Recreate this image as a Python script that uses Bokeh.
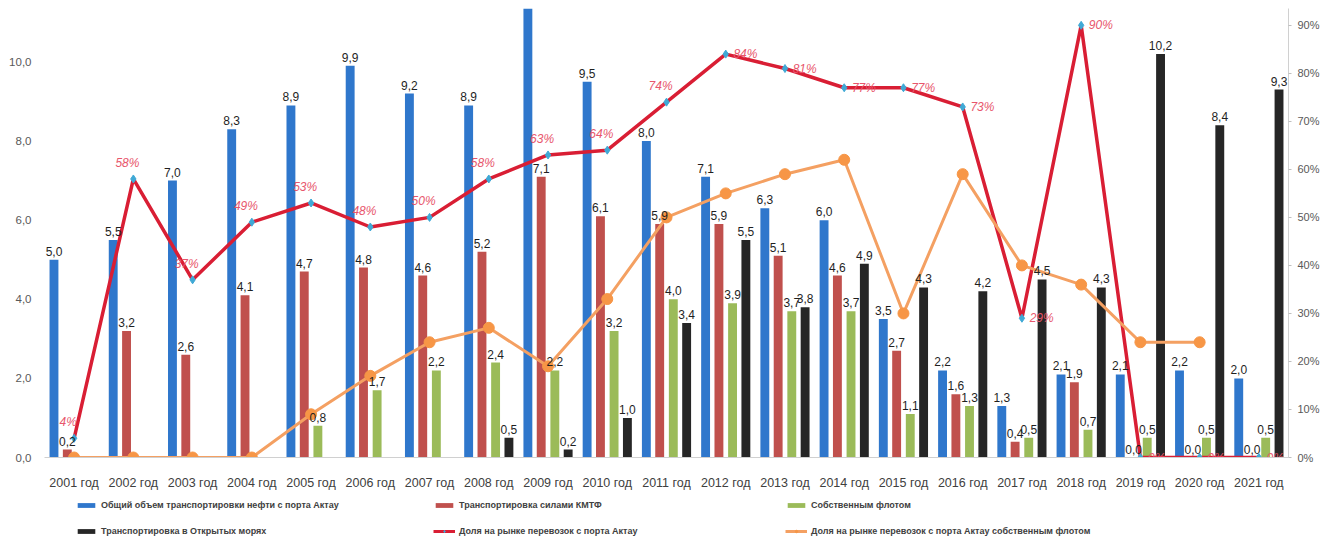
import numpy as np
from bokeh.plotting import figure
from bokeh.layouts import column
from bokeh.models import (Range1d, LinearAxis, FixedTicker, ColumnDataSource,
                          Legend, LegendItem)
from bokeh.transform import dodge
from bokeh.core.properties import value
from bokeh.embed import file_html
from bokeh.resources import INLINE

nan = float("nan")

years = ["2001 год", "2002 год", "2003 год", "2004 год", "2005 год", "2006 год",
         "2007 год", "2008 год", "2009 год", "2010 год", "2011 год", "2012 год",
         "2013 год", "2014 год", "2015 год", "2016 год", "2017 год", "2018 год",
         "2019 год", "2020 год", "2021 год"]

# million tonnes
total = [5.0, 5.5, 7.0, 8.3, 8.9, 9.9, 9.2, 8.9, 11.4, 9.5, 8.0, 7.1, 6.3, 6.0,
         3.5, 2.2, 1.3, 2.1, 2.1, 2.2, 2.0]
kmtf = [0.2, 3.2, 2.6, 4.1, 4.7, 4.8, 4.6, 5.2, 7.1, 6.1, 5.9, 5.9, 5.1, 4.6,
        2.7, 1.6, 0.4, 1.9, 0.0, 0.0, 0.0]
own_fleet = [nan, nan, nan, nan, 0.8, 1.7, 2.2, 2.4, 2.2, 3.2, 4.0, 3.9, 3.7, 3.7,
             1.1, 1.3, 0.5, 0.7, 0.5, 0.5, 0.5]
open_sea = [nan, nan, nan, nan, nan, nan, nan, 0.5, 0.2, 1.0, 3.4, 5.5, 3.8, 4.9,
            4.3, 4.2, 4.5, 4.3, 10.2, 8.4, 9.3]
# percent
share = [4, 58, 37, 49, 53, 48, 50, 58, 63, 64, 74, 84, 81, 77, 77, 73, 29, 90, 0, 0, 0]
own_share = [0, 0, 0, 0, 9, 17, 24, 27, 19, 33, 50, 55, 59, 62, 30, 59, 40, 36, 24, 24, nan]

left_ticks = [0, 2, 4, 6, 8, 10]
left_tick_labels = ["0,0", "2,0", "4,0", "6,0", "8,0", "10,0"]
right_ticks = [0, 10, 20, 30, 40, 50, 60, 70, 80, 90]
right_tick_labels = ["0%", "10%", "20%", "30%", "40%", "50%", "60%", "70%", "80%", "90%"]

names = ["Общий объем транспортировки нефти с порта Актау",
         "Транспортировка силами КМТФ",
         "Собственным флотом",
         "Транспортировка в Открытых морях",
         "Доля на рынке перевозок с порта Актау",
         "Доля на рынке перевозок с порта Актау собственным флотом"]

Y_MAX = 11.35
P_MAX = 93.5


def fmt(v):
    if v != v or v > Y_MAX:
        return ""
    return f"{v:.1f}".replace(".", ",")


n = len(years)
above = [i < 11 for i in range(n)]
src = ColumnDataSource(dict(
    year=years,
    total=np.array(total), kmtf=np.array(kmtf),
    own=np.array(own_fleet), sea=np.array(open_sea),
    total_l=[fmt(v) for v in total], kmtf_l=[fmt(v) for v in kmtf],
    own_l=[fmt(v) for v in own_fleet], sea_l=[fmt(v) for v in open_sea],
    share=np.array(share, dtype=float), own_share=np.array(own_share, dtype=float),
))
src_above = ColumnDataSource(dict(
    year=[y for y, a in zip(years, above) if a],
    share=[float(s) for s, a in zip(share, above) if a],
    lbl=[f"{s}%" for s, a in zip(share, above) if a]))
src_right = ColumnDataSource(dict(
    year=[y for y, a in zip(years, above) if not a],
    share=[float(s) for s, a in zip(share, above) if not a],
    lbl=[f"{s}%" for s, a in zip(share, above) if not a]))

FONT = "Liberation Sans"

p = figure(width=1322, height=492, x_range=years, y_range=Range1d(0, Y_MAX),
           output_backend="svg", toolbar_location=None,
           min_border_left=44, min_border_right=29, min_border_top=8,
           min_border_bottom=29)
p.x_range.range_padding = 0
p.outline_line_color = None
p.xgrid.grid_line_color = None
p.ygrid.grid_line_color = None
p.background_fill_color = "white"
p.border_fill_color = "white"

p.extra_y_ranges = {"pct": Range1d(0, P_MAX)}

# left axis
ya = p.yaxis[0]
ya.ticker = FixedTicker(ticks=left_ticks)
ya.major_label_overrides = {t: l for t, l in zip(left_ticks, left_tick_labels)}
ya.axis_line_color = None
ya.major_tick_line_color = None
ya.minor_tick_line_color = None
ya.major_label_text_color = "#595959"
ya.major_label_text_font_size = "11.5px"
ya.major_label_text_font = FONT
ya.major_label_standoff = 7

# right axis
ra = LinearAxis(y_range_name="pct", ticker=FixedTicker(ticks=right_ticks),
                major_label_overrides={t: l for t, l in zip(right_ticks, right_tick_labels)})
ra.axis_line_color = "#D0D0D0"
ra.major_tick_line_color = "#BFBFBF"
ra.major_tick_in = 0
ra.major_tick_out = 3
ra.minor_tick_line_color = None
ra.major_label_text_color = "#595959"
ra.major_label_text_font_size = "11px"
ra.major_label_text_font = FONT
ra.major_label_standoff = 6
p.add_layout(ra, "right")

xa = p.xaxis[0]
xa.axis_line_color = "#D0D0D0"
xa.major_tick_line_color = None
xa.minor_tick_line_color = None
xa.major_label_text_color = "#404040"
xa.major_label_text_font_size = "12.5px"
xa.major_label_text_font = FONT
xa.major_label_standoff = 12

BLUE, RED, GREEN, BLACK = "#2F77CC", "#C0504D", "#9BBB59", "#262626"
W = 0.15
offs = [-0.34, -0.115, 0.115, 0.34]
cols = ["total", "kmtf", "own", "sea"]
colors = [BLUE, RED, GREEN, BLACK]
for off, c, colr in zip(offs, cols, colors):
    p.vbar(x=dodge("year", off, range=p.x_range), top=c, width=W, source=src,
           fill_color=colr, line_color=None)

# lines
LINE_RED = "#D91E34"
ORANGE = "#F4A062"
CYAN = "#3FA9D6"
p.line(x="year", y="share", y_range_name="pct", source=src,
       line_color=LINE_RED, line_width=3.5)
p.scatter(x="year", y="share", y_range_name="pct", source=src, marker="diamond",
          size=8, fill_color=CYAN, line_color=CYAN)
p.line(x="year", y="own_share", y_range_name="pct", source=src,
       line_color=ORANGE, line_width=3)
p.scatter(x="year", y="own_share", y_range_name="pct", source=src, marker="circle",
          size=11, fill_color="#F79646", line_color="#F79646")

# bar value labels
for off, c in zip(offs, cols):
    p.text(x=dodge("year", off, range=p.x_range), y=c, text=c + "_l", source=src,
           text_align="center", text_baseline="bottom", y_offset=-4,
           text_font=value(FONT), text_font_size="12px", text_color="#1f1f1f")

# share labels
PCT = "#E8566C"
p.text(x=dodge("year", -0.1, range=p.x_range), y="share", text="lbl", source=src_above,
       y_range_name="pct", text_align="center", text_baseline="bottom", y_offset=-9,
       text_font=value(FONT), text_font_size="12px", text_font_style="italic",
       text_color=PCT)
p.text(x=dodge("year", 0.13, range=p.x_range), y="share", text="lbl", source=src_right,
       y_range_name="pct", text_align="left", text_baseline="middle",
       text_font=value(FONT), text_font_size="12px", text_font_style="italic",
       text_color=PCT)

# ---- legend strip below the chart ----
lf = figure(width=1322, height=46, x_range=Range1d(0, 1), y_range=Range1d(0, 1),
            output_backend="svg", toolbar_location=None,
            min_border=0, min_border_left=0, min_border_right=0,
            min_border_top=0, min_border_bottom=0)
lf.axis.visible = False
lf.grid.visible = False
lf.outline_line_color = None
lf.background_fill_color = "white"
lf.border_fill_color = "white"


def off_src():
    # one point outside the visible range, so legend glyphs can be drawn
    return ColumnDataSource(dict(x=[-10.0], top=[-10.0], y=[-10.0]))


lg_b = [lf.vbar(x="x", top="top", width=1, source=off_src(),
                fill_color=c, line_color=None) for c in colors]
lg_l1 = lf.line(x="x", y="y", source=off_src(), line_color=LINE_RED, line_width=3)
lg_m1 = lf.scatter(x="x", y="y", source=off_src(), marker="diamond", size=9,
                   fill_color=CYAN, line_color=CYAN)
lg_l2 = lf.line(x="x", y="y", source=off_src(), line_color=ORANGE, line_width=3)
lg_m2 = lf.scatter(x="x", y="y", source=off_src(), marker="circle", size=7,
                   fill_color="#F79646", line_color="#F79646")

entries = [
    (names[0], [lg_b[0]], (31, 27)),
    (names[1], [lg_b[1]], (389, 27)),
    (names[2], [lg_b[2]], (741, 27)),
    (names[3], [lg_b[3]], (31, 1)),
    (names[4], [lg_l1, lg_m1], (389, 1)),
    (names[5], [lg_l2, lg_m2], (741, 1)),
]
for label, rends, loc in entries:
    lg = Legend(items=[LegendItem(label=label, renderers=rends)], location=loc,
                orientation="horizontal", padding=0, margin=0, spacing=0,
                border_line_color=None, background_fill_alpha=0,
                label_text_font_size="9px", label_text_font_style="bold",
                label_text_color="#404040", label_text_font=FONT,
                glyph_width=22, glyph_height=6, label_standoff=4, label_height=12)
    lf.add_layout(lg, "center")

layout = column(p, lf, spacing=0)
open("out.html", "w").write(file_html(layout, INLINE))
